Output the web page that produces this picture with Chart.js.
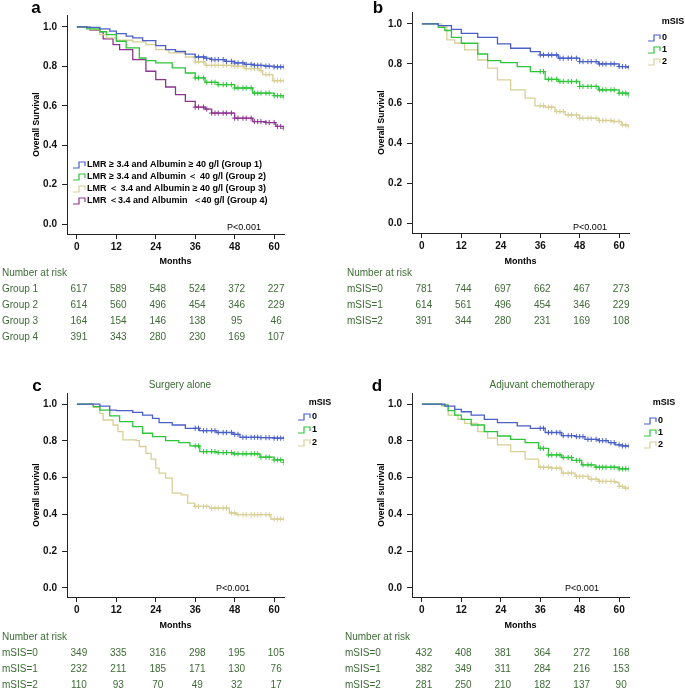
<!DOCTYPE html>
<html>
<head>
<meta charset="utf-8">
<script src="https://cdn.jsdelivr.net/npm/chart.js@4.4.0/dist/chart.umd.min.js"></script>
<style>
  body { margin: 0; background: #fff; }
  #fig { position: relative; width: 685px; height: 690px; overflow: hidden; }
  canvas { position: absolute; }
</style>
</head>
<body>
<div id="fig">
  <canvas id="pa" width="345" height="345" style="left:0;top:0"></canvas>
  <canvas id="pb" width="340" height="345" style="left:345px;top:0"></canvas>
  <canvas id="pc" width="345" height="315" style="left:0;top:375px"></canvas>
  <canvas id="pd" width="340" height="315" style="left:345px;top:375px"></canvas>
</div>
<script>
const monthTicks = [0, 12, 24, 36, 48, 60];
const survTicks = [0, 0.2, 0.4, 0.6, 0.8, 1.0];
const censorTimes = [36, 37, 38.5, 39.5, 41, 42, 43, 44.5, 45.5, 47, 48, 49, 50.5, 51.5, 53, 54, 55, 56, 57.5, 58.5, 60, 61, 62, 63];

// a: LMR / albumin groups
const aLabels = [
    'LMR ≥ 3.4 and Albumin ≥ 40 g/l (Group 1)',
    'LMR ≥ 3.4 and Albumin ＜ 40 g/l (Group 2)',
    'LMR ＜ 3.4 and Albumin ≥ 40 g/l (Group 3)',
    'LMR ＜3.4 and Albumin  ＜40 g/l (Group 4)'
];
const aGroup1 = [[0,1],[3,0.997],[7,0.99],[10,0.978],[12,0.966],[15,0.953],[17,0.944],[20,0.93],[24,0.905],[27,0.885],[30,0.875],[33,0.862],[36,0.847],[39,0.84],[41,0.834],[45,0.825],[48,0.817],[51,0.81],[54,0.805],[57,0.801],[60,0.797],[63,0.797]];
const aGroup2 = [[0,1],[3,0.99],[7,0.975],[9,0.961],[12,0.927],[15,0.893],[19,0.842],[21,0.829],[24,0.817],[29,0.792],[33,0.766],[36,0.741],[39,0.719],[43,0.707],[48,0.69],[53.5,0.664],[60,0.651],[63,0.644]];
const aGroup3 = [[0,1],[4,0.986],[7,0.961],[9,0.944],[12,0.932],[17,0.924],[21,0.91],[24,0.885],[28,0.868],[33,0.847],[36,0.822],[39,0.805],[48,0.8],[51,0.788],[55.5,0.778],[56.5,0.758],[59.6,0.727],[63,0.727]];
const aGroup4 = [[0,1],[4,0.983],[7,0.975],[8,0.939],[11,0.91],[13,0.885],[17,0.834],[21,0.775],[24,0.732],[27,0.695],[30,0.656],[33,0.622],[36,0.593],[39,0.583],[41,0.563],[48,0.537],[53.5,0.52],[57.5,0.515],[60.5,0.495],[63,0.486]];
const aRows = ['Group 1', 'Group 2', 'Group 3', 'Group 4'];
const aRisk = [
    [617, 589, 548, 524, 372, 227],
    [614, 560, 496, 454, 346, 229],
    [164, 154, 146, 138, 95, 46],
    [391, 343, 280, 230, 169, 107]
];

// b: mSIS, all patients
const msisLabels = ['0', '1', '2'];
const bScore0 = [[0,1],[5,0.992],[9,0.973],[12,0.953],[17,0.933],[23,0.9],[27,0.878],[33,0.861],[36,0.844],[41.5,0.828],[48,0.811],[53.7,0.799],[60,0.786],[63,0.781]];
const bScore1 = [[0,1],[5,0.983],[7,0.967],[9,0.933],[12,0.903],[17,0.849],[20,0.816],[24,0.806],[29,0.786],[33,0.761],[37.5,0.722],[41.5,0.711],[48,0.686],[53.7,0.669],[60,0.652],[63,0.644]];
const bScore2 = [[0,1],[6,0.987],[7.6,0.92],[10,0.903],[13,0.87],[17,0.819],[20,0.778],[23,0.719],[27,0.669],[31.4,0.627],[34.4,0.589],[37.5,0.582],[40.5,0.56],[43.6,0.543],[48,0.527],[53.7,0.515],[57.8,0.51],[60.8,0.493],[63,0.485]];
const bRows = ['mSIS=0', 'mSIS=1', 'mSIS=2'];
const bRisk = [
    [781, 744, 697, 662, 467, 273],
    [614, 561, 496, 454, 346, 229],
    [391, 344, 280, 231, 169, 108]
];

// c: surgery alone
const cScore0 = [[0,1],[7,0.989],[10,0.967],[12,0.964],[17,0.955],[20,0.94],[23,0.922],[25,0.899],[29,0.886],[33,0.868],[37.3,0.855],[42.4,0.845],[47.5,0.835],[49.6,0.819],[55.7,0.817],[60,0.814],[63,0.814]];
const cScore1 = [[0,1],[5,0.986],[7,0.967],[10,0.935],[13,0.904],[17,0.877],[20,0.841],[23,0.823],[27,0.801],[31,0.79],[34.4,0.772],[37.4,0.741],[42.5,0.736],[47.5,0.729],[55.7,0.711],[60,0.696],[63,0.682]];
const cScore2 = [[0,1],[5,0.982],[7,0.949],[8,0.913],[11,0.886],[12.5,0.85],[14,0.805],[18,0.801],[19,0.769],[21,0.732],[22.6,0.7],[24,0.651],[25,0.624],[27,0.597],[29,0.515],[31.7,0.506],[33.7,0.461],[35.8,0.443],[40.3,0.434],[46.4,0.407],[48.4,0.398],[59,0.374],[63,0.374]];
const cRisk = [
    [349, 335, 316, 298, 195, 105],
    [232, 211, 185, 171, 130, 76],
    [110, 93, 70, 49, 32, 17]
];

// d: adjuvant chemotherapy
const dScore0 = [[0,1],[7,0.989],[10,0.971],[12,0.958],[15,0.94],[19,0.917],[23,0.899],[29,0.881],[33,0.868],[37.5,0.845],[42.5,0.828],[46.6,0.823],[49.6,0.808],[53.7,0.801],[56.7,0.79],[58.8,0.778],[61,0.772],[63,0.772]];
const dScore1 = [[0,1],[6,0.995],[8,0.964],[10,0.94],[12,0.917],[15,0.886],[19,0.85],[23,0.826],[27,0.808],[31.4,0.79],[35.5,0.759],[38.5,0.723],[42.5,0.709],[45.6,0.693],[48.6,0.669],[52.7,0.656],[60,0.647],[63,0.646]];
const dScore2 = [[0,1],[6,0.989],[8,0.94],[11,0.917],[13,0.895],[17,0.85],[20,0.814],[23,0.778],[27,0.741],[31.4,0.7],[35.5,0.656],[39.5,0.651],[42.5,0.624],[46.6,0.606],[50.7,0.591],[53.7,0.579],[58.8,0.573],[60,0.552],[61.5,0.542],[63,0.542]];
const dRisk = [
    [432, 408, 381, 364, 272, 168],
    [382, 349, 311, 284, 216, 153],
    [281, 250, 210, 182, 137, 90]
];

const blue = '#4a5fc8', green = '#2ec53a', tan = '#d8cf96', purple = '#8e3591';
const textGreen = '#3d6b35';
const font = '"Liberation Sans", Arial, sans-serif';

function survAt(curve, t) {
    let s = 1;
    for (const [ti, si] of curve) {
        if (ti <= t) s = si;
    }
    return s;
}

function stepIcon(ctx, x, y, color) {
    ctx.strokeStyle = color;
    ctx.lineWidth = 1.2;
    ctx.beginPath();
    ctx.moveTo(x, y + 3);
    ctx.lineTo(x + 6, y + 3);
    ctx.lineTo(x + 6, y - 3);
    ctx.lineTo(x + 12, y - 3);
    ctx.lineTo(x + 12, y + 1);
    ctx.stroke();
}

function panelText(p) {
    return {
        id: 'panelText',
        afterDraw(chart) {
            const ctx = chart.ctx;
            const xs = chart.scales.x;
            const area = chart.chartArea;
            ctx.save();

            ctx.fillStyle = '#000';
            ctx.font = 'bold 17px ' + font;
            ctx.textAlign = 'center';
            ctx.textBaseline = 'alphabetic';
            ctx.fillText(p.letter, p.letterPos[0], p.letterPos[1]);

            if (p.title) {
                ctx.fillStyle = textGreen;
                ctx.font = '10px ' + font;
                ctx.textBaseline = 'middle';
                ctx.fillText(p.title, p.titlePos[0], p.titlePos[1]);
            }

            // axis titles
            ctx.fillStyle = '#000';
            ctx.save();
            ctx.translate(p.yTitleX, (area.top + area.bottom) / 2);
            ctx.rotate(-Math.PI / 2);
            ctx.font = 'bold 8.5px ' + font;
            ctx.textBaseline = 'middle';
            ctx.fillText(p.yTitle, 0, 0);
            ctx.restore();

            ctx.font = 'bold 9px ' + font;
            ctx.textBaseline = 'middle';
            ctx.fillText('Months', xs.getPixelForValue(30), p.monthsY);

            ctx.font = '9px ' + font;
            ctx.fillText('P<0.001', p.pPos[0], p.pPos[1]);

            // legend
            ctx.textAlign = 'left';
            if (p.legendTitle) {
                ctx.font = 'bold 9px ' + font;
                ctx.textAlign = 'center';
                ctx.fillStyle = '#000';
                ctx.fillText(p.legendTitle, p.legTitlePos[0], p.legTitlePos[1]);
                ctx.textAlign = 'left';
            }
            p.labels.forEach((lab, i) => {
                stepIcon(ctx, p.legX, p.legY[i], p.colors[i]);
                ctx.fillStyle = '#000';
                ctx.font = 'bold 9px ' + font;
                ctx.fillText(lab, p.legX + 14, p.legY[i]);
            });

            // number at risk table
            ctx.fillStyle = textGreen;
            ctx.font = '10px ' + font;
            ctx.textAlign = 'left';
            ctx.fillText('Number at risk', p.tableX, p.tableY[0]);
            p.rows.forEach((name, r) => {
                const y = p.tableY[r + 1];
                ctx.textAlign = 'left';
                ctx.fillText(name, p.tableX, y);
                ctx.textAlign = 'center';
                p.risk[r].forEach((n, j) => {
                    ctx.fillText(String(n), xs.getPixelForValue(monthTicks[j]) + 2, y);
                });
            });
            ctx.restore();
        }
    };
}

function drawPanel(id, p) {
    const cv = document.getElementById(id);
    const W = cv.width, H = cv.height;
    const axisH = 22;
    const datasets = [];
    p.curves.forEach((c, i) => {
        datasets.push({
            label: p.labels[i],
            data: c.map(([x, y]) => ({ x, y })),
            stepped: 'before',
            borderColor: p.colors[i],
            borderWidth: 1.3,
            pointRadius: 0,
            fill: false
        });
    });
    p.curves.forEach((c, i) => {
        datasets.push({
            label: p.labels[i] + ' censored',
            data: censorTimes.filter(t => t <= c[c.length - 1][0]).map(t => ({ x: t, y: survAt(c, t) })),
            showLine: false,
            pointStyle: 'cross',
            pointRadius: 2.6,
            borderColor: p.colors[i],
            borderWidth: 1
        });
    });

    new Chart(cv, {
        type: 'line',
        data: { datasets },
        options: {
            responsive: false,
            animation: false,
            layout: {
                padding: { left: 0, top: p.area.top, right: W - p.area.right, bottom: H - p.area.bottom - axisH }
            },
            plugins: {
                legend: { display: false },
                tooltip: { enabled: false }
            },
            scales: {
                x: {
                    type: 'linear',
                    min: -3,
                    max: 63,
                    afterBuildTicks: s => { s.ticks = monthTicks.map(v => ({ value: v })); },
                    afterFit: s => { s.height = axisH; },
                    grid: { drawOnChartArea: false, tickLength: 5, color: '#222' },
                    border: { color: '#222' },
                    ticks: { color: '#111', padding: 2, maxRotation: 0, font: { family: font, size: 10, weight: 'bold' } }
                },
                y: {
                    min: -0.05,
                    max: 1.06,
                    afterBuildTicks: s => { s.ticks = survTicks.map(v => ({ value: v })); },
                    afterFit: s => { s.width = p.area.left; },
                    grid: { drawOnChartArea: false, tickLength: 5, color: '#222' },
                    border: { color: '#222' },
                    ticks: {
                        color: '#111',
                        padding: 5,
                        callback: v => v.toFixed(1),
                        font: { family: font, size: 10, weight: 'bold' }
                    }
                }
            }
        },
        plugins: [panelText(p)]
    });
}

drawPanel('pa', {
    letter: 'a', letterPos: [36, 13],
    curves: [aGroup1, aGroup2, aGroup3, aGroup4],
    colors: [blue, green, tan, purple],
    labels: aLabels,
    area: { left: 67, right: 284, top: 15, bottom: 234 },
    yTitle: 'Overall Survival', yTitleX: 37,
    monthsY: 262, pPos: [244, 228],
    legX: 73, legY: [165, 177, 189, 201],
    rows: aRows, risk: aRisk,
    tableX: 2, tableY: [273, 289, 305, 321, 337]
});

drawPanel('pb', {
    letter: 'b', letterPos: [33, 13],
    curves: [bScore0, bScore1, bScore2],
    colors: [blue, green, tan],
    labels: msisLabels,
    area: { left: 67, right: 284, top: 12, bottom: 233 },
    yTitle: 'Overall Survival', yTitleX: 37,
    monthsY: 262, pPos: [245, 228],
    legendTitle: 'mSIS', legTitlePos: [328, 22],
    legX: 303, legY: [38, 50, 62],
    rows: bRows, risk: bRisk,
    tableX: 2, tableY: [273, 289, 305, 321]
});

drawPanel('pc', {
    letter: 'c', letterPos: [37, 16],
    title: 'Surgery alone', titlePos: [180, 10],
    curves: [cScore0, cScore1, cScore2],
    colors: [blue, green, tan],
    labels: msisLabels,
    area: { left: 67, right: 284, top: 18, bottom: 222 },
    yTitle: 'Overall survival', yTitleX: 37,
    monthsY: 251, pPos: [233, 214],
    legendTitle: 'mSIS', legTitlePos: [320, 28],
    legX: 298, legY: [42, 55, 68],
    rows: bRows, risk: cRisk,
    tableX: 2, tableY: [262, 278, 294, 310]
});

drawPanel('pd', {
    letter: 'd', letterPos: [32, 16],
    title: 'Adjuvant chemotherapy', titlePos: [197, 10],
    curves: [dScore0, dScore1, dScore2],
    colors: [blue, green, tan],
    labels: msisLabels,
    area: { left: 67, right: 284, top: 18, bottom: 222 },
    yTitle: 'Overall survival', yTitleX: 37,
    monthsY: 251, pPos: [237, 214],
    legendTitle: 'mSIS', legTitlePos: [319, 28],
    legX: 299, legY: [46, 58, 70],
    rows: bRows, risk: dRisk,
    tableX: 0, tableY: [262, 278, 294, 310]
});
</script>
</body>
</html>
